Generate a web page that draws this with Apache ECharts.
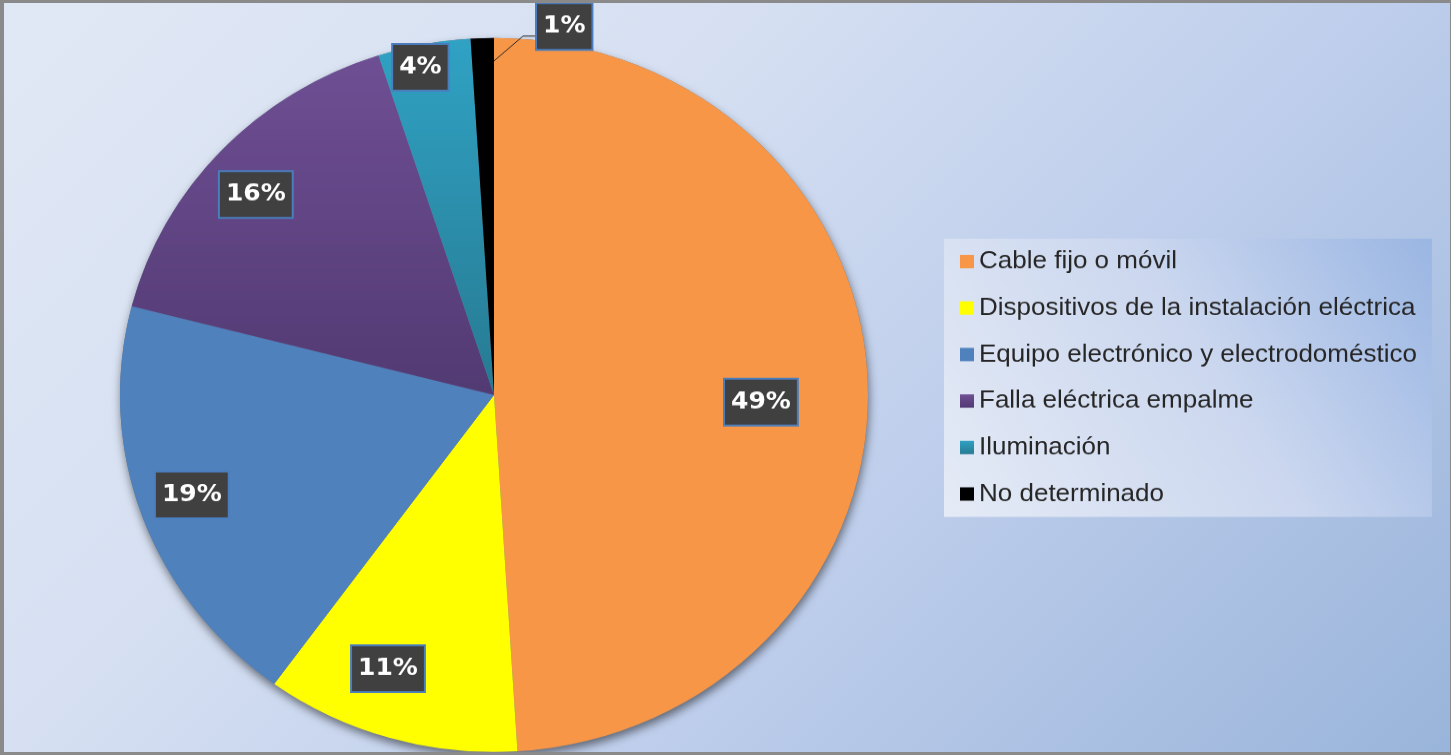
<!DOCTYPE html>
<html>
<head>
<meta charset="utf-8">
<title>Causas de incendios eléctricos</title>
<script src="https://cdn.jsdelivr.net/npm/echarts@6/dist/echarts.min.js"></script>
<style>
  html, body { margin: 0; padding: 0; width: 1451px; height: 755px; overflow: hidden; }
  #stage {
    position: absolute; left: 0; top: 0; width: 1451px; height: 755px; overflow: hidden;
    background: linear-gradient(135deg, #e1e8f5 0%, #d6e0f2 34%, #bdcdeb 64%, #99b4da 100%);
  }
  /* the plot is drawn slightly taller and squeezed vertically so the pie comes out oval */
  #chart {
    position: absolute; left: 0; top: 0; width: 1451px; height: 791px;
    transform-origin: 0 0; transform: scaleY(0.954545);
  }
  #frame {
    position: absolute; left: 0; top: 0; width: 1451px; height: 755px; box-sizing: border-box;
    border-style: solid; border-color: #8a8a8a; border-width: 3px 1px 3px 4px; pointer-events: none;
  }
</style>
</head>
<body>
<div id="stage">
  <div id="chart"></div>
  <div id="frame"></div>
</div>
<script>
// Causes, in drawing order (clockwise from 12 o'clock)
const categories = [
  'Cable fijo o móvil',
  'Dispositivos de la instalación eléctrica',
  'Equipo electrónico y electrodoméstico',
  'Falla eléctrica empalme',
  'Iluminación',
  'No determinado'
];
// Share of each cause, in percent
const shares = [49, 11, 19, 16, 4, 1];

const sliceColors = [
  '#f79646',
  '#ffff00',
  '#4f81bd',
  { type: 'linear', x: 0, y: 0, x2: 0, y2: 1,
    colorStops: [{ offset: 0, color: '#6f4f94' }, { offset: 1, color: '#523a73' }] },
  { type: 'linear', x: 0, y: 0, x2: 0, y2: 1,
    colorStops: [{ offset: 0, color: '#30a2c4' }, { offset: 1, color: '#277a92' }] },
  '#000000'
];

// label placement inside the slices: fraction of the radius and angular nudge (deg)
const labelRadius = [0.714, 0.817, 0.855, 0.849, 0.939];
const labelShift = [-3.4, -4.1, -0.7, 1.8, 1.3];
const OUTSIDE = categories.length - 1;   // thin slice labelled outside with a leader line

const SQUEEZE = 0.954545;
const CX = 494;
const CY = 395 / SQUEEZE;
const R = 374;

const total = shares.reduce((a, b) => a + b, 0);
function midAngle(i) {
  let acc = 0;
  for (let k = 0; k < i; k++) acc += shares[k];
  return 90 - (acc + shares[i] / 2) / total * 360;
}

const labelBox = {
  color: '#ffffff',
  fontFamily: 'DejaVu Sans',
  fontWeight: 'bold',
  fontSize: 25,
  backgroundColor: '#404040',
  borderColor: '#4a7ebf',
  borderWidth: 2,
  padding: [11, 6],
  formatter: p => p.value + '%'
};

const chart = echarts.init(document.getElementById('chart'), null, { renderer: 'canvas' });

chart.setOption({
  backgroundColor: 'transparent',
  animation: false,
  legend: {
    orient: 'vertical',
    left: 944,
    top: 250,
    data: categories,
    icon: 'rect',
    itemWidth: 14,
    itemHeight: 14,
    itemGap: 22.7,
    padding: [11, 15, 11, 16],
    selectedMode: false,
    backgroundColor: {
      type: 'linear', x: 0, y: 1, x2: 1, y2: 0,
      colorStops: [
        { offset: 0, color: '#e5ebf6' },
        { offset: 0.55, color: '#cbd7ef' },
        { offset: 1, color: '#9ab6e3' }
      ]
    },
    textStyle: { fontFamily: 'Liberation Sans', fontSize: 26, color: '#262626' }
  },
  series: [
    {
      // soft drop shadow under the whole pie
      type: 'pie',
      silent: true,
      z: 1,
      center: [CX, CY],
      radius: R,
      startAngle: 90,
      data: [{ value: total, name: '' }],
      itemStyle: {
        color: '#6a7489',
        shadowBlur: 10,
        shadowOffsetX: 1,
        shadowOffsetY: 5,
        shadowColor: 'rgba(0,0,0,0.5)'
      },
      label: { show: false },
      labelLine: { show: false }
    },
    {
      // the pie itself, with value boxes inside the slices
      type: 'pie',
      z: 2,
      center: [CX, CY],
      radius: R,
      startAngle: 90,
      clockwise: true,
      avoidLabelOverlap: false,
      data: categories.map((name, i) => ({
        name: name,
        value: shares[i],
        itemStyle: { color: sliceColors[i] },
        label: { show: i !== OUTSIDE }
      })),
      label: Object.assign({ show: true, position: 'inside' }, labelBox),
      labelLine: { show: false },
      labelLayout: function (p) {
        const i = p.dataIndex;
        if (i >= labelRadius.length) return {};
        const a = (midAngle(i) + labelShift[i]) * Math.PI / 180;
        const r = labelRadius[i] * R;
        return {
          x: CX + r * Math.cos(a),
          y: CY - r * Math.sin(a),
          align: 'center',
          verticalAlign: 'middle'
        };
      }
    },
    {
      // transparent copy on top, carrying only the outside label and its leader line
      type: 'pie',
      z: 3,
      silent: true,
      center: [CX, CY],
      radius: R,
      startAngle: 90,
      clockwise: true,
      avoidLabelOverlap: false,
      itemStyle: { color: 'rgba(0,0,0,0)' },
      data: categories.map((name, i) => ({
        name: name,
        value: shares[i],
        label: { show: i === OUTSIDE },
        labelLine: { show: i === OUTSIDE }
      })),
      label: Object.assign({ position: 'outside' }, labelBox),
      labelLine: { showAbove: true, lineStyle: { color: '#262626', width: 1 } },
      labelLayout: function (p) {
        if (p.dataIndex !== OUTSIDE) return {};
        return {
          x: CX + 43,
          y: CY - 386,
          align: 'left',
          verticalAlign: 'middle',
          labelLinePoints: [
            [CX, CY - 350],
            [CX + 29, CY - 376],
            [CX + 43, CY - 376]
          ]
        };
      }
    }
  ]
});
</script>
</body>
</html>
